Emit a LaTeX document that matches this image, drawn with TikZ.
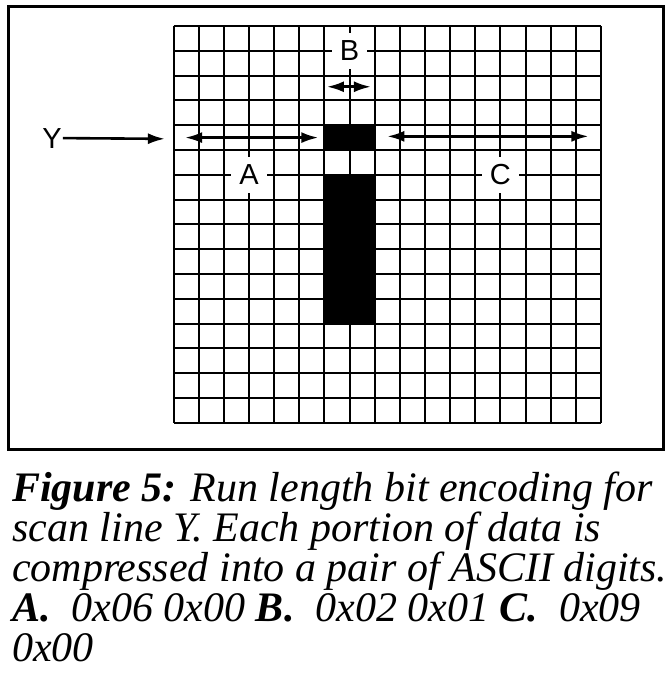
\documentclass[tikz,border=0pt]{standalone}
\usepackage{fontspec}
\setmainfont{Liberation Serif}
\newfontfamily\labelfont{Liberation Sans}
\usepackage{tikz}
\usetikzlibrary{arrows.meta}

\begin{document}
\begin{tikzpicture}[
  x=1pt, y=-1pt,
  frame/.style={draw, line width=3pt},
  gridline/.style={draw, line width=2pt},
  pixel/.style={fill=black},
  celllabel/.style={fill=white, inner sep=8pt, font=\labelfont\fontsize{29}{29}\selectfont},
  scanlabel/.style={inner sep=1pt, font=\labelfont\fontsize{29}{29}\selectfont},
  run/.style={line width=2.6pt, {Latex[length=17pt,width=11pt]}-{Latex[length=17pt,width=11pt]}},
  ptr/.style={line width=2.6pt, -{Latex[length=17pt,width=11pt]}},
  captext/.style={anchor=base west, inner sep=0pt, align=left,
                  font=\fontsize{42}{40}\selectfont\itshape}
]
  \useasboundingbox (0,0) rectangle (671,673);
  \draw[frame] (8,6) rectangle (663,449);

  \begin{scope}[shift={(173.5,26)}, x=25.15pt, y=-24.8pt]
    \fill[pixel] (6,4) rectangle (8,5);
    \fill[pixel] (6,6) rectangle (8,12);
    \foreach \c in {0,...,17}
      \draw[gridline] (\c,0) -- (\c,16);
    \foreach \r in {0,...,16}
      \draw[gridline] (0,\r) -- (17,\r);

    \node[celllabel] (labA) at (3,6) {A};
    \node[celllabel] (labB) at (7,1) {B};
    \node[celllabel] (labC) at (13,6) {C};
    \node[scanlabel] (labY) at (-4.83,4.52) {Y};

    \coordinate (aL) at (0.46,4.5);
    \coordinate (aR) at (5.76,4.5);
    \coordinate (bL) at (6.1,2.45);
    \coordinate (bR) at (7.85,2.45);
    \coordinate (cL) at (8.5,4.45);
    \coordinate (cR) at (16.5,4.45);
    \coordinate (yEnd) at (-0.34,4.55);

    \draw[run] (aL) -- (aR);
    \draw[run] (bL) -- (bR);
    \draw[run] (cL) -- (cR);
    \draw[ptr] (labY.east) -- (yEnd);
  \end{scope}

  \node[captext] (caption) at (12,661)
    {\textbf{Figure 5:} Run length bit encoding for\\
     scan line Y. Each portion of data is\\
     compressed into a pair of ASCII digits.\\
     \textbf{A.}\ \ 0x06 0x00 \textbf{B.}\ \ 0x02 0x01 \textbf{C.}\ \ 0x09\\
     0x00};
\end{tikzpicture}
\end{document}
